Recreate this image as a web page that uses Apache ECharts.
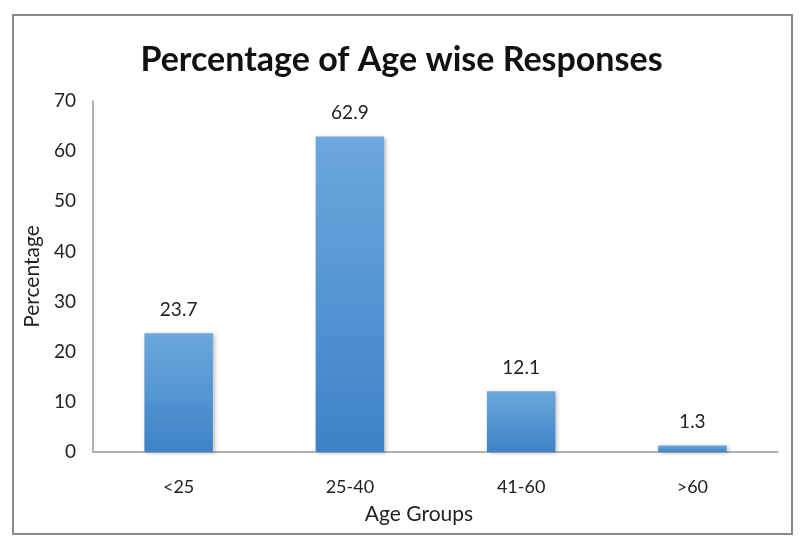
<!DOCTYPE html>
<html>
<head>
<meta charset="utf-8">
<script src="https://cdn.jsdelivr.net/npm/echarts@6/dist/echarts.min.js"></script>
<style>
html,body{margin:0;padding:0;background:#fff;}
#chart{width:803px;height:547px;}
</style>
</head>
<body>
<div id="chart"></div>
<script>
const categories = ['<25', '25-40', '41-60', '>60'];
const percentages = [23.7, 62.9, 12.1, 1.3];
const yTicks = { min: 0, max: 70, interval: 10 };

const chart = echarts.init(document.getElementById('chart'));
const font = 'Lato, "Open Sans", sans-serif';
chart.setOption({
  backgroundColor: '#fff',
  animation: false,
  graphic: [{
    type: 'rect',
    shape: { x: 13, y: 15, width: 779, height: 519 },
    style: { fill: 'none', stroke: '#8a8a8a', lineWidth: 2 },
    z: -1
  }],
  title: {
    text: 'Percentage of Age wise Responses',
    left: 'center',
    top: 38,
    textStyle: { fontFamily: font, fontWeight: 'bold', fontSize: 34, color: '#111' }
  },
  grid: { left: 93, right: 25, top: 101, bottom: 95, containLabel: false },
  xAxis: {
    type: 'category',
    data: categories,
    name: 'Age Groups',
    nameLocation: 'middle',
    nameGap: 52,
    nameTextStyle: { fontFamily: font, fontSize: 21, color: '#222', padding: [0, 33, 0, 0] },
    axisLine: { lineStyle: { color: '#999', width: 1.5 } },
    axisTick: { show: false },
    axisLabel: { fontFamily: font, fontSize: 18, color: '#222', margin: 26 }
  },
  yAxis: {
    type: 'value',
    min: yTicks.min, max: yTicks.max, interval: yTicks.interval,
    name: 'Percentage',
    nameLocation: 'middle',
    nameRotate: 90,
    nameGap: 42,
    nameTextStyle: { fontFamily: font, fontSize: 21, color: '#222' },
    axisLine: { show: true, lineStyle: { color: '#999', width: 1.5 } },
    axisTick: { show: false },
    splitLine: { show: false },
    axisLabel: { fontFamily: font, fontSize: 19, color: '#222', margin: 17 }
  },
  series: [{
    type: 'bar',
    data: percentages,
    barWidth: '40%',
    itemStyle: {
      color: new echarts.graphic.LinearGradient(0, 0, 0, 1, [
        { offset: 0, color: '#6ca7dd' },
        { offset: 1, color: '#3d83c7' }
      ]),
      shadowBlur: 4,
      shadowColor: 'rgba(0,0,0,0.25)',
      shadowOffsetX: 2,
      shadowOffsetY: 1
    },
    label: {
      show: true,
      position: 'top',
      distance: 14,
      fontFamily: font,
      fontSize: 19,
      color: '#222'
    }
  }]
});
</script>
</body>
</html>
